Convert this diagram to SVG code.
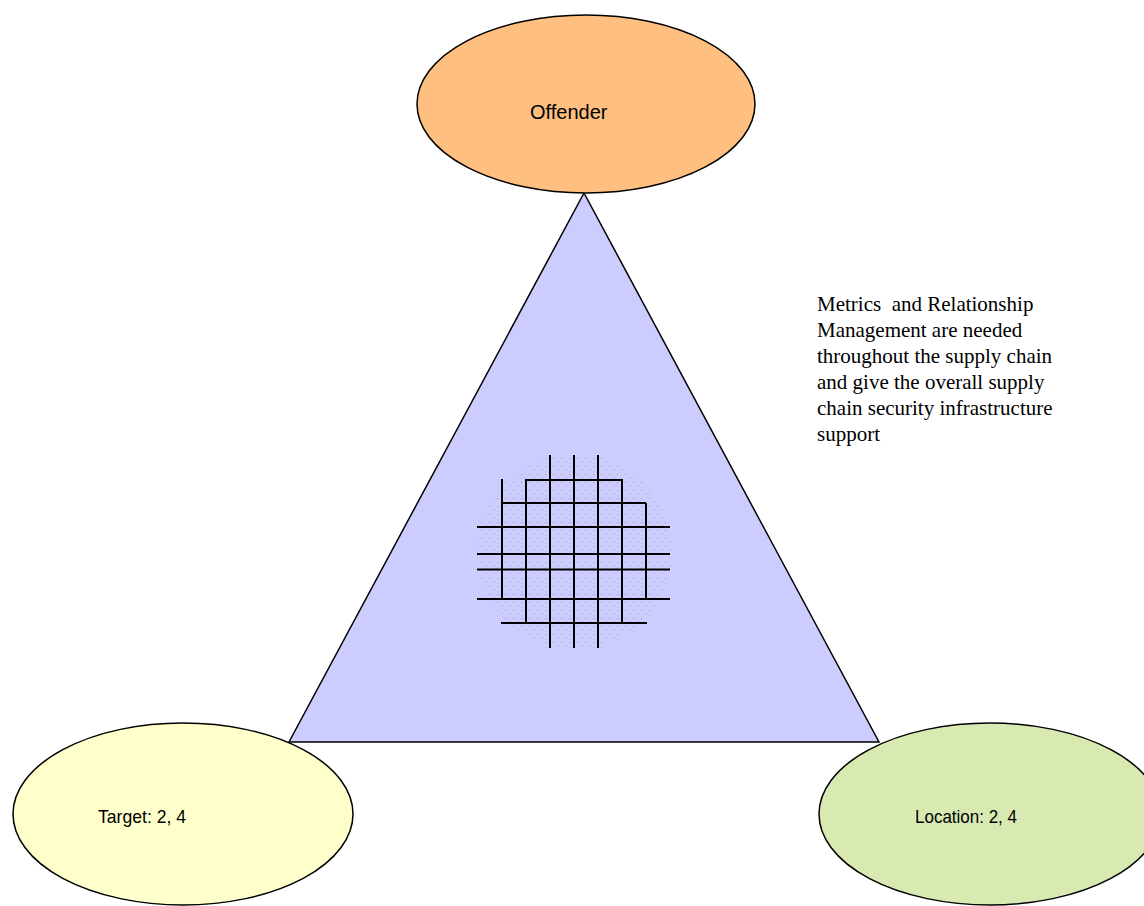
<svg xmlns="http://www.w3.org/2000/svg" width="1144" height="906" viewBox="0 0 1144 906">
  <defs>
    <style>
      .outline { stroke: #000; stroke-width: 1.5; }
      .grid line { stroke: #000; stroke-width: 2; }
      .sans { font-family: "Liberation Sans", Arial, sans-serif; font-size: 20px; fill: #000; }
      .narrow { font-family: "Liberation Sans Narrow", "Liberation Sans", Arial, sans-serif; font-size: 19px; fill: #000; }
      .serif { font-family: "Liberation Serif", "Times New Roman", serif; font-size: 21px; fill: #000; }
    </style>
    <pattern id="dots" width="8" height="8" patternUnits="userSpaceOnUse">
      <rect x="1" y="2" width="1" height="1" fill="#6fb080"/>
      <rect x="5" y="5" width="1" height="1" fill="#a8aac8"/>
    </pattern>
  </defs>
  <rect width="1144" height="906" fill="#fff"/>

  <g id="triangle">
    <polygon class="outline" points="584,193 289,742 879,742" fill="#ccccff"/>
  </g>

  <g id="grid-emblem">
    <circle cx="574" cy="551" r="97" fill="url(#dots)"/>
    <g class="grid">
      <line x1="502" y1="479" x2="502" y2="600"/>
      <line x1="526" y1="479" x2="526" y2="624"/>
      <line x1="550" y1="455" x2="550" y2="648"/>
      <line x1="574" y1="455" x2="574" y2="648"/>
      <line x1="598" y1="455" x2="598" y2="648"/>
      <line x1="622" y1="479" x2="622" y2="624"/>
      <line x1="646" y1="503" x2="646" y2="600"/>
      <line x1="526" y1="480" x2="622" y2="480"/>
      <line x1="502" y1="503" x2="646" y2="503"/>
      <line x1="477" y1="527" x2="670" y2="527"/>
      <line x1="477" y1="554" x2="670" y2="554"/>
      <line x1="477" y1="569.5" x2="670" y2="569.5"/>
      <line x1="477" y1="599" x2="670" y2="599"/>
      <line x1="501" y1="623" x2="647" y2="623"/>
    </g>
  </g>

  <g id="offender">
    <ellipse class="outline" cx="586" cy="104" rx="169" ry="89" fill="#ffbf80"/>
    <text class="sans" x="530" y="119">Offender</text>
  </g>

  <g id="target">
    <ellipse class="outline" cx="183" cy="814" rx="170" ry="91" fill="#ffffcc"/>
    <text class="narrow" x="98" y="823" textLength="88" lengthAdjust="spacingAndGlyphs">Target: 2, 4</text>
  </g>

  <g id="location">
    <ellipse class="outline" cx="990" cy="814" rx="171" ry="91" fill="#d8e9b2"/>
    <text class="narrow" x="915" y="823" textLength="102" lengthAdjust="spacingAndGlyphs">Location: 2, 4</text>
  </g>

  <g id="note">
    <text class="serif" x="817" y="311" xml:space="preserve">Metrics  and Relationship</text>
    <text class="serif" x="817" y="337">Management are needed</text>
    <text class="serif" x="817" y="363">throughout the supply chain</text>
    <text class="serif" x="817" y="389">and give the overall supply</text>
    <text class="serif" x="817" y="415">chain security infrastructure</text>
    <text class="serif" x="817" y="441">support</text>
  </g>
</svg>
